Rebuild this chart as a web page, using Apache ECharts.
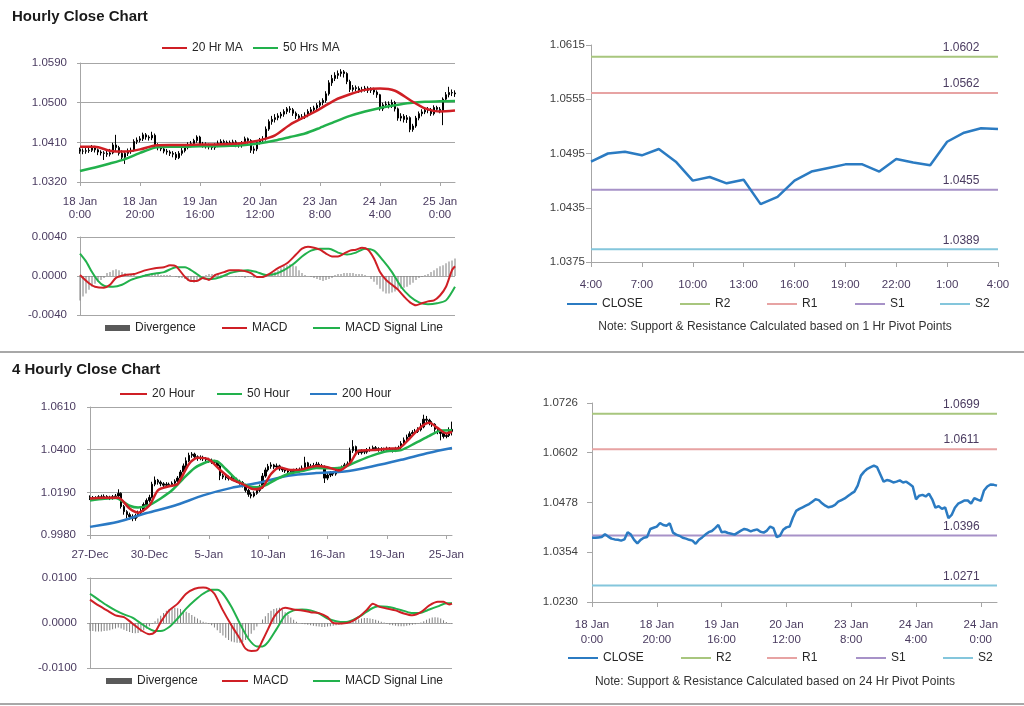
<!DOCTYPE html>
<html><head><meta charset="utf-8">
<script src="https://cdn.jsdelivr.net/npm/echarts@6/dist/echarts.min.js"></script>
<style>html,body{margin:0;padding:0;background:#fff}#c{width:1024px;height:706px}</style>
</head><body><div id="c"></div>
<script>
// ---------------- DATA ----------------
const hourlyTicks = ['18 Jan\n0:00','18 Jan\n20:00','19 Jan\n16:00','20 Jan\n12:00','23 Jan\n8:00','24 Jan\n4:00','25 Jan\n0:00'];
const pivotHourlyTicks = ['18 Jan\n0:00','18 Jan\n20:00','19 Jan\n16:00','20 Jan\n12:00','23 Jan\n8:00','24 Jan\n4:00','24 Jan\n0:00'];
const fourHourTicks = ['27-Dec','30-Dec','5-Jan','10-Jan','16-Jan','19-Jan','25-Jan'];
const dayHours = ['4:00','5:00','6:00','7:00','8:00','9:00','10:00','11:00','12:00','13:00','14:00','15:00','16:00','17:00','18:00','19:00','20:00','21:00','22:00','23:00','0:00','1:00','2:00','3:00','4:00'];

const hourlyOpen = [1.0394,1.0390,1.0390,1.0391,1.0392,1.0399,1.0393,1.0388,1.0386,1.0385,
1.0383,1.0386,1.0404,1.0398,1.0385,1.0376,1.0385,1.0390,1.0392,1.0412,
1.0415,1.0418,1.0427,1.0422,1.0420,1.0426,1.0403,1.0398,1.0395,1.0390,
1.0388,1.0385,1.0383,1.0375,1.0385,1.0391,1.0398,1.0404,1.0407,1.0414,
1.0422,1.0404,1.0405,1.0402,1.0400,1.0398,1.0403,1.0408,1.0412,1.0410,
1.0406,1.0409,1.0411,1.0405,1.0403,1.0408,1.0418,1.0414,1.0392,1.0395,
1.0410,1.0416,1.0418,1.0440,1.0457,1.0462,1.0466,1.0470,1.0474,1.0480,
1.0486,1.0484,1.0476,1.0470,1.0466,1.0468,1.0472,1.0480,1.0484,1.0488,
1.0494,1.0500,1.0505,1.0520,1.0545,1.0555,1.0562,1.0566,1.0570,1.0566,
1.0548,1.0530,1.0534,1.0532,1.0528,1.0530,1.0533,1.0528,1.0530,1.0524,
1.0518,1.0486,1.0495,1.0497,1.0493,1.0500,1.0486,1.0465,1.0469,1.0462,
1.0466,1.0439,1.0447,1.0465,1.0475,1.0479,1.0483,1.0483,1.0475,1.0489,
1.0485,1.0482,1.0508,1.0518,1.0523,1.0522];
const hourlyClose = [1.0390,1.0390,1.0391,1.0392,1.0399,1.0393,1.0388,1.0386,1.0385,1.0383,
1.0386,1.0404,1.0398,1.0385,1.0376,1.0385,1.0390,1.0392,1.0412,1.0415,
1.0418,1.0427,1.0422,1.0420,1.0426,1.0403,1.0398,1.0395,1.0390,1.0388,
1.0385,1.0383,1.0375,1.0385,1.0391,1.0398,1.0404,1.0407,1.0414,1.0422,
1.0404,1.0405,1.0402,1.0400,1.0398,1.0403,1.0408,1.0412,1.0410,1.0406,
1.0409,1.0411,1.0405,1.0403,1.0408,1.0418,1.0414,1.0392,1.0395,1.0410,
1.0416,1.0418,1.0440,1.0457,1.0462,1.0466,1.0470,1.0474,1.0480,1.0486,
1.0484,1.0476,1.0470,1.0466,1.0468,1.0472,1.0480,1.0484,1.0488,1.0494,
1.0500,1.0505,1.0520,1.0545,1.0555,1.0562,1.0566,1.0570,1.0566,1.0548,
1.0530,1.0534,1.0532,1.0528,1.0530,1.0533,1.0528,1.0530,1.0524,1.0518,
1.0486,1.0495,1.0497,1.0493,1.0500,1.0486,1.0465,1.0469,1.0462,1.0466,
1.0439,1.0447,1.0465,1.0475,1.0479,1.0483,1.0483,1.0475,1.0489,1.0485,
1.0482,1.0508,1.0518,1.0523,1.0522,1.0520];
const hourlyLow = [1.0384,1.0383,1.0384,1.0386,1.0388,1.0387,1.0381,1.0380,1.0370,1.0377,
1.0378,1.0383,1.0388,1.0380,1.0370,1.0361,1.0379,1.0384,1.0389,1.0406,
1.0410,1.0413,1.0416,1.0414,1.0415,1.0398,1.0392,1.0390,1.0385,1.0382,
1.0379,1.0376,1.0370,1.0372,1.0380,1.0387,1.0394,1.0399,1.0402,1.0409,
1.0400,1.0398,1.0396,1.0394,1.0393,1.0393,1.0399,1.0403,1.0404,1.0400,
1.0401,1.0404,1.0399,1.0398,1.0398,1.0404,1.0407,1.0386,1.0384,1.0390,
1.0405,1.0410,1.0414,1.0436,1.0450,1.0455,1.0460,1.0464,1.0468,1.0474,
1.0477,1.0470,1.0463,1.0460,1.0461,1.0463,1.0467,1.0475,1.0478,1.0483,
1.0489,1.0494,1.0500,1.0516,1.0538,1.0549,1.0554,1.0559,1.0557,1.0542,
1.0524,1.0525,1.0526,1.0522,1.0523,1.0525,1.0522,1.0522,1.0518,1.0511,
1.0482,1.0481,1.0489,1.0487,1.0488,1.0480,1.0459,1.0458,1.0455,1.0454,
1.0433,1.0434,1.0443,1.0460,1.0469,1.0474,1.0476,1.0470,1.0471,1.0479,
1.0476,1.0449,1.0503,1.0512,1.0515,1.0513];
const hourlyHigh = [1.0398,1.0396,1.0397,1.0399,1.0404,1.0402,1.0396,1.0392,1.0390,1.0391,
1.0395,1.0409,1.0427,1.0402,1.0392,1.0390,1.0396,1.0398,1.0417,1.0421,
1.0424,1.0432,1.0431,1.0426,1.0434,1.0430,1.0408,1.0402,1.0399,1.0395,
1.0392,1.0390,1.0388,1.0390,1.0397,1.0403,1.0410,1.0413,1.0418,1.0426,
1.0425,1.0411,1.0410,1.0407,1.0405,1.0408,1.0414,1.0417,1.0416,1.0414,
1.0414,1.0416,1.0415,1.0409,1.0413,1.0423,1.0421,1.0417,1.0401,1.0414,
1.0420,1.0424,1.0446,1.0462,1.0470,1.0474,1.0476,1.0479,1.0485,1.0490,
1.0492,1.0488,1.0480,1.0474,1.0474,1.0478,1.0485,1.0490,1.0493,1.0499,
1.0505,1.0510,1.0526,1.0551,1.0563,1.0569,1.0573,1.0576,1.0574,1.0569,
1.0552,1.0540,1.0539,1.0537,1.0536,1.0538,1.0537,1.0535,1.0534,1.0528,
1.0520,1.0500,1.0503,1.0503,1.0507,1.0504,1.0489,1.0476,1.0474,1.0472,
1.0469,1.0452,1.0470,1.0480,1.0485,1.0488,1.0490,1.0488,1.0494,1.0493,
1.0490,1.0512,1.0524,1.0536,1.0530,1.0528];
// moving averages read at sampled bar positions [barIndex, value]
const hourlyMA20 = [[0,1.0400],[5,1.0400],[10,1.0391],[15,1.0389],[20,1.0394],[25,1.0403],[30,1.0404],[35,1.0404],[40,1.0405],[45,1.0405],[50,1.0406],[55,1.0409],[60,1.0415],[65,1.0426],[70,1.0450],[75,1.0468],[80,1.0486],[85,1.0506],[90,1.0519],[95,1.0529],[100,1.0532],[105,1.0527],[110,1.0506],[115,1.0487],[120,1.0480],[125,1.0482]];
const hourlyMA50 = [[0,1.0345],[5,1.0353],[10,1.0362],[15,1.0372],[20,1.0386],[25,1.0398],[30,1.0400],[35,1.0400],[40,1.0401],[45,1.0401],[50,1.0402],[55,1.0404],[60,1.0408],[65,1.0414],[70,1.0422],[75,1.0430],[80,1.0443],[85,1.0457],[90,1.0470],[95,1.0480],[100,1.0488],[105,1.0494],[110,1.0499],[115,1.0502],[120,1.0503],[125,1.0504]];
const hourlyMacd = [[0,0.0001],[3,-0.00075],[5,-0.0011],[8,-0.0012],[10,-0.0009],[12,-0.0002],[15,0.0001],[18,0.0002],[22,0.0006],[25,0.0008],[28,0.0009],[30,0.0011],[32,0.0010],[35,-0.0001],[37,-0.0005],[39,-0.0005],[41,-0.0002],[43,-0.0004],[45,0.0001],[48,0.0004],[50,0.0006],[53,0.0006],[55,0.0005],[57,0.0003],[59,-0.0001],[61,-0.0001],[63,0.0002],[66,0.0008],[69,0.0013],[72,0.0022],[74,0.0028],[76,0.0030],[78,0.0029],[80,0.0027],[82,0.0023],[84,0.0020],[86,0.0020],[88,0.0023],[90,0.0026],[92,0.0027],[94,0.0029],[96,0.0027],[98,0.0018],[100,0.0004],[102,-0.0004],[104,-0.0009],[106,-0.0014],[108,-0.0021],[110,-0.0027],[112,-0.0030],[114,-0.0028],[116,-0.0026],[118,-0.0025],[120,-0.0020],[122,-0.0011],[124,0.0006],[125,0.0010]];
const hourlySignal = [[0,0.0023],[2,0.0015],[4,0.0004],[6,-0.0005],[8,-0.0010],[11,-0.0011],[14,-0.0009],[17,-0.0004],[20,-0.0001],[24,0.0002],[28,0.0004],[32,0.0009],[35,0.0009],[38,0.0004],[41,-0.0002],[44,-0.0003],[47,-0.0001],[50,0.0003],[53,0.0005],[56,0.0006],[59,0.0004],[62,0.0001],[65,0.0002],[68,0.0006],[71,0.0012],[74,0.0020],[77,0.0026],[80,0.0028],[83,0.0028],[86,0.0024],[89,0.0022],[92,0.0024],[95,0.0028],[98,0.0026],[101,0.0016],[104,0.0004],[107,-0.0011],[110,-0.0021],[113,-0.0027],[116,-0.0029],[119,-0.0028],[122,-0.0025],[125,-0.0011]];
const hourlyDivergence = [-0.0025,-0.0021,-0.0018,-0.0014,-0.0011,-0.0008,-0.0006,-0.0004,-0.0002,
0.0003,0.0004,0.0006,0.0007,0.0006,0.0004,0.0003,0.0002,0.0001,0.0001,0,0,
0.0001,0.0002,0.0002,0.0002,0.0002,0.0002,0.0001,0.0001,0.0001,0.0001,
0,-0.0001,-0.0002,-0.0002,-0.0003,-0.0005,-0.0006,-0.0007,-0.0005,-0.0003,
-0.0001,0.0001,0.0002,0.0002,0.0002,0.0002,0.0001,0.0001,
0.0001,0,0,-0.0001,-0.0001,-0.0001,-0.0002,-0.0001,-0.0001,
-0.0002,-0.0002,-0.0002,-0.0002,-0.0001,0.0001,0.0003,
0.0004,0.0006,0.0008,0.0010,0.0011,0.0012,0.0011,0.0010,0.0006,
0.0003,0.0001,0,-0.0001,
-0.0002,-0.0003,-0.0004,-0.0005,-0.0004,-0.0003,-0.0002,
0.0001,0.0002,0.0002,0.0003,0.0003,0.0003,0.0003,0.0002,0.0002,0.0002,0.0001,0,
-0.0003,-0.0006,-0.0009,-0.0013,-0.0016,
-0.0018,-0.0018,-0.0017,-0.0016,-0.0014,-0.0013,-0.0012,-0.0011,-0.0009,
-0.0007,-0.0004,-0.0002,-0.0001,0.0001,0.0002,
0.0004,0.0006,0.0008,0.0010,0.0011,0.0013,0.0015,0.0016,0.0018];

const lastDayClose = [1.0486,1.0495,1.0497,1.0493,1.0500,1.0486,1.0465,1.0469,1.0462,1.0466,1.0439,1.0447,1.0465,1.0475,1.0479,1.0483,1.0483,1.0475,1.0489,1.0485,1.0482,1.0508,1.0518,1.0523,1.0522];
const pivotNames = ['R2','R1','S1','S2'];
const hourlyPivotLevels = [1.0602,1.0562,1.0455,1.0389];
const dailyPivotLevels = [1.0699,1.0611,1.0396,1.0271];

const fourOpen = [1.0160,1.0165,1.0160,1.0163,1.0168,1.0165,1.0170,1.0166,1.0162,1.0168,
1.0172,1.0185,1.0120,1.0095,1.0080,1.0070,1.0062,1.0075,1.0090,1.0100,
1.0130,1.0150,1.0165,1.0230,1.0250,1.0240,1.0232,1.0225,1.0230,1.0228,
1.0235,1.0245,1.0260,1.0290,1.0320,1.0345,1.0372,1.0378,1.0365,1.0358,
1.0362,1.0355,1.0350,1.0345,1.0340,1.0338,1.0320,1.0272,1.0265,1.0262,
1.0258,1.0262,1.0255,1.0245,1.0238,1.0225,1.0200,1.0180,1.0172,1.0185,
1.0200,1.0215,1.0270,1.0300,1.0318,1.0325,1.0315,1.0320,1.0305,1.0300,
1.0295,1.0290,1.0292,1.0295,1.0298,1.0300,1.0310,1.0335,1.0315,1.0318,
1.0322,1.0328,1.0320,1.0318,1.0260,1.0275,1.0285,1.0280,1.0292,1.0305,
1.0312,1.0325,1.0330,1.0395,1.0415,1.0390,1.0385,1.0392,1.0388,1.0398,
1.0402,1.0410,1.0405,1.0400,1.0402,1.0398,1.0405,1.0400,1.0396,1.0405,
1.0410,1.0430,1.0448,1.0462,1.0478,1.0485,1.0490,1.0498,1.0512,1.0550,
1.0545,1.0530,1.0525,1.0500,1.0490,1.0480,1.0465,1.0470,1.0490];
const fourClose = [1.0165,1.0160,1.0163,1.0168,1.0165,1.0170,1.0166,1.0162,1.0168,1.0172,
1.0185,1.0120,1.0095,1.0080,1.0070,1.0062,1.0075,1.0090,1.0100,1.0130,
1.0150,1.0165,1.0230,1.0250,1.0240,1.0232,1.0225,1.0230,1.0228,1.0235,
1.0245,1.0260,1.0290,1.0320,1.0345,1.0372,1.0378,1.0365,1.0358,1.0362,
1.0355,1.0350,1.0345,1.0340,1.0338,1.0320,1.0272,1.0265,1.0262,1.0258,
1.0262,1.0255,1.0245,1.0238,1.0225,1.0200,1.0180,1.0172,1.0185,1.0200,
1.0215,1.0270,1.0300,1.0318,1.0325,1.0315,1.0320,1.0305,1.0300,1.0295,
1.0290,1.0292,1.0295,1.0298,1.0300,1.0310,1.0335,1.0315,1.0318,1.0322,
1.0328,1.0320,1.0318,1.0260,1.0275,1.0285,1.0280,1.0292,1.0305,1.0312,
1.0325,1.0330,1.0395,1.0415,1.0390,1.0385,1.0392,1.0388,1.0398,1.0402,
1.0410,1.0405,1.0400,1.0402,1.0398,1.0405,1.0400,1.0396,1.0405,1.0410,
1.0430,1.0448,1.0462,1.0478,1.0485,1.0490,1.0498,1.0512,1.0550,1.0545,
1.0530,1.0525,1.0500,1.0490,1.0480,1.0465,1.0470,1.0490,1.0500];
const fourLow = [1.0152,1.0150,1.0152,1.0155,1.0157,1.0158,1.0156,1.0152,1.0154,1.0160,
1.0165,1.0110,1.0080,1.0062,1.0055,1.0048,1.0050,1.0066,1.0080,1.0094,
1.0122,1.0140,1.0160,1.0220,1.0228,1.0220,1.0215,1.0216,1.0218,1.0220,
1.0228,1.0238,1.0252,1.0282,1.0310,1.0338,1.0360,1.0355,1.0345,1.0348,
1.0344,1.0340,1.0335,1.0330,1.0326,1.0312,1.0250,1.0255,1.0250,1.0248,
1.0249,1.0245,1.0236,1.0228,1.0214,1.0190,1.0168,1.0160,1.0165,1.0178,
1.0192,1.0208,1.0262,1.0292,1.0306,1.0305,1.0306,1.0296,1.0290,1.0286,
1.0280,1.0282,1.0284,1.0286,1.0288,1.0292,1.0305,1.0305,1.0306,1.0310,
1.0312,1.0308,1.0305,1.0236,1.0250,1.0265,1.0270,1.0272,1.0285,1.0296,
1.0305,1.0318,1.0325,1.0384,1.0380,1.0374,1.0376,1.0378,1.0380,1.0390,
1.0395,1.0394,1.0390,1.0391,1.0388,1.0390,1.0390,1.0386,1.0388,1.0396,
1.0402,1.0422,1.0440,1.0455,1.0470,1.0476,1.0482,1.0490,1.0505,1.0532,
1.0520,1.0512,1.0488,1.0476,1.0446,1.0455,1.0456,1.0462,1.0470];
const fourHigh = [1.0175,1.0172,1.0171,1.0176,1.0178,1.0180,1.0176,1.0173,1.0177,1.0182,
1.0205,1.0190,1.0128,1.0102,1.0090,1.0082,1.0085,1.0100,1.0112,1.0140,
1.0160,1.0178,1.0242,1.0268,1.0256,1.0248,1.0240,1.0240,1.0238,1.0244,
1.0254,1.0270,1.0300,1.0332,1.0362,1.0385,1.0388,1.0385,1.0372,1.0372,
1.0370,1.0364,1.0360,1.0356,1.0350,1.0345,1.0325,1.0282,1.0275,1.0272,
1.0272,1.0268,1.0262,1.0252,1.0245,1.0232,1.0208,1.0190,1.0195,1.0210,
1.0228,1.0285,1.0312,1.0330,1.0338,1.0330,1.0332,1.0326,1.0315,1.0310,
1.0305,1.0302,1.0306,1.0310,1.0312,1.0322,1.0365,1.0340,1.0330,1.0335,
1.0340,1.0338,1.0330,1.0322,1.0285,1.0295,1.0294,1.0302,1.0315,1.0322,
1.0335,1.0342,1.0410,1.0447,1.0420,1.0398,1.0402,1.0400,1.0408,1.0414,
1.0420,1.0418,1.0412,1.0412,1.0410,1.0415,1.0413,1.0408,1.0414,1.0420,
1.0442,1.0460,1.0474,1.0490,1.0496,1.0502,1.0510,1.0530,1.0572,1.0566,
1.0552,1.0540,1.0530,1.0508,1.0495,1.0488,1.0482,1.0510,1.0538];
const fourMA20 = [[0,1.0160],[5,1.0163],[10,1.0163],[14,1.0110],[17,1.0090],[21,1.0125],[24,1.0200],[28,1.0220],[31,1.0232],[35,1.0330],[38,1.0360],[42,1.0352],[46,1.0300],[50,1.0255],[54,1.0230],[58,1.0205],[61,1.0215],[64,1.0280],[67,1.0312],[71,1.0300],[75,1.0303],[80,1.0320],[84,1.0313],[88,1.0298],[92,1.0335],[95,1.0395],[100,1.0398],[105,1.0405],[109,1.0406],[113,1.0455],[117,1.0512],[120,1.0532],[123,1.0506],[126,1.0480],[128,1.0488]];
const fourMA50 = [[0,1.0150],[5,1.0158],[9,1.0162],[14,1.0124],[17,1.0115],[21,1.0128],[25,1.0160],[29,1.0200],[33,1.0258],[37,1.0310],[40,1.0332],[43,1.0345],[45,1.0342],[48,1.0305],[52,1.0250],[56,1.0220],[59,1.0215],[62,1.0225],[66,1.0255],[70,1.0280],[75,1.0295],[80,1.0310],[85,1.0308],[90,1.0315],[95,1.0345],[100,1.0372],[105,1.0392],[110,1.0398],[115,1.0432],[120,1.0468],[124,1.0494],[128,1.0496]];
const fourMA200 = [[0,1.0020],[10,1.0045],[20,1.0088],[30,1.0125],[40,1.0175],[50,1.0212],[60,1.0238],[70,1.0272],[80,1.0285],[90,1.0292],[100,1.0318],[110,1.0350],[120,1.0385],[128,1.0408]];
const fourMacd = [[0,0.0052],[3,0.0039],[6,0.0028],[9,0.0017],[12,0.0013],[15,-0.0001],[18,-0.0016],[21,-0.0025],[23,-0.0020],[25,0.0002],[28,0.0028],[31,0.0043],[34,0.0065],[37,0.0076],[40,0.0079],[42,0.0076],[44,0.0065],[47,0.0028],[50,-0.0005],[53,-0.0035],[55,-0.0057],[57,-0.0062],[59,-0.0061],[61,-0.0039],[63,-0.0013],[65,0.0013],[67,0.0028],[69,0.0034],[72,0.0030],[75,0.0028],[78,0.0024],[81,0.0022],[84,0.0013],[86,0],[89,-0.0001],[92,0.0002],[95,0.0013],[98,0.0030],[100,0.0043],[102,0.0037],[105,0.0032],[108,0.0028],[111,0.0021],[114,0.0017],[117,0.0024],[120,0.0039],[123,0.0047],[125,0.0047],[127,0.0041],[128,0.0043]];
const fourSignal = [[0,0.0065],[3,0.0052],[6,0.0039],[9,0.0028],[12,0.0019],[15,0.0012],[18,-0.0001],[21,-0.0013],[23,-0.0018],[25,-0.0018],[28,-0.0009],[31,0.0010],[34,0.0032],[37,0.0050],[40,0.0065],[43,0.0074],[45,0.0074],[47,0.0065],[50,0.0036],[53,-0.0001],[56,-0.0035],[59,-0.0052],[61,-0.0052],[63,-0.0042],[66,-0.0013],[69,0.0017],[72,0.0028],[75,0.0030],[78,0.0028],[81,0.0021],[84,0.0010],[87,0.0004],[90,0.0002],[93,0.0007],[96,0.0017],[99,0.0030],[102,0.0037],[105,0.0036],[108,0.0032],[111,0.0027],[114,0.0022],[117,0.0023],[120,0.0030],[123,0.0037],[126,0.0044],[128,0.0044]];
const fourDivergence = [-0.0018,-0.0018,-0.0019,-0.0019,-0.0019,-0.0018,-0.0017,-0.0016,-0.0014,-0.0012,-0.0010,
-0.0012,-0.0015,-0.0018,-0.0020,-0.0022,-0.0023,-0.0022,-0.0020,-0.0016,-0.0012,-0.0007,-0.0002,
0.0004,0.0010,0.0016,0.0022,0.0027,0.0031,0.0033,0.0034,0.0033,
0.0031,0.0028,0.0025,0.0022,0.0018,0.0014,0.0010,0.0006,0.0003,0.0001,-0.0002,
-0.0005,-0.0010,-0.0016,-0.0022,-0.0028,-0.0033,-0.0038,
-0.0041,-0.0043,-0.0044,-0.0044,-0.0042,-0.0038,-0.0032,
-0.0024,-0.0016,-0.0008,0,0.0008,
0.0015,0.0022,0.0027,0.0031,0.0033,0.0034,
0.0030,0.0024,0.0018,0.0012,0.0007,0.0003,0,
-0.0002,-0.0003,-0.0004,-0.0005,-0.0006,-0.0007,-0.0008,-0.0009,-0.0009,-0.0008,-0.0007,-0.0006,-0.0005,-0.0004,-0.0003,-0.0002,-0.0001,
0.0002,0.0004,0.0006,0.0008,0.0010,0.0011,0.0011,0.0010,0.0009,0.0007,0.0005,0.0003,0.0001,
-0.0002,-0.0004,-0.0005,-0.0006,-0.0007,-0.0007,-0.0007,-0.0006,-0.0005,-0.0004,-0.0003,-0.0001,0.0001,
0.0004,0.0007,0.0010,0.0012,0.0013,0.0012,0.0010,0.0006,
0.0002,-0.0001,-0.0002];

// ---------------- STYLE ----------------
const FONT = '"Liberation Sans", Arial, sans-serif';
const LBL = '#4a3b60';
const AX = '#a6a6a6';
const RED = '#cf1f25', GREEN = '#22b14c', BLUE = '#2a79c4', CLOSEC = '#2b7bc2';
const pivotColors = ['#a8c67e','#e7a3a3','#a792c8','#84c6dc'];

function cats(n, ticks, step) {
  return Array.from({length: n}, (_, i) => i % step === 0 ? (ticks[i / step] || '') : '');
}
function xCat(gi, n, ticks, step, o) {
  o = o || {};
  const show = o.show !== false;
  return {
    type: 'category', gridIndex: gi, data: cats(n, ticks, step), boundaryGap: false,
    axisLine: {show: show, onZero: false, lineStyle: {color: AX, width: 1}},
    axisTick: {show: show, interval: i => i % step === 0, length: o.tickLen || 4, lineStyle: {color: AX}},
    axisLabel: {show: show, interval: i => i % step === 0, margin: o.margin || 14, color: LBL,
      fontSize: 11.5, fontFamily: FONT, lineHeight: o.lh || 13},
    splitLine: {show: false}
  };
}
function yVal(gi, min, max, vals, o) {
  o = o || {};
  return {
    type: 'value', gridIndex: gi, min: min, max: max,
    axisLine: {show: true, lineStyle: {color: AX, width: 1}},
    axisTick: {show: true, customValues: vals, length: o.tickLen || 3, lineStyle: {color: AX}},
    axisLabel: {customValues: vals, margin: o.margin || 13, color: o.color || LBL, fontSize: 11.5, fontFamily: FONT,
      formatter: v => Number(v).toFixed(4)},
    splitLine: {show: o.split !== false, lineStyle: {color: AX, width: 1}}
  };
}
function lineS(name, xi, data, color, w, z) {
  return {name: name, type: 'line', xAxisIndex: xi, yAxisIndex: xi, data: data, symbol: 'none',
    smooth: 0.25, lineStyle: {color: color, width: w}, itemStyle: {color: color}, z: z || 3, silent: true};
}
function candle(name, xi, o, c, l, h) {
  return {name: name, type: 'candlestick', xAxisIndex: xi, yAxisIndex: xi, barWidth: 2,
    data: o.map((v, i) => [v, c[i], l[i], h[i]]),
    itemStyle: {color: '#000', color0: '#000', borderColor: '#000', borderColor0: '#000', borderWidth: 1}, z: 2, silent: true};
}
function pivotSeries(levels, n, xi, labelIdx, offX) {
  return pivotNames.map((nm, k) => ({
    name: nm, type: 'line', xAxisIndex: xi, yAxisIndex: xi,
    data: Array.from({length: n}, (_, i) => i === labelIdx ? {value: levels[k], label: {show: true}} : levels[k]),
    symbol: 'circle', symbolSize: 0, showSymbol: true, showAllSymbol: true,
    lineStyle: {color: pivotColors[k], width: 2}, itemStyle: {color: pivotColors[k]},
    label: {show: false, position: 'top', distance: 3, offset: [offX || 0, 0], color: LBL, fontSize: 12, fontFamily: FONT,
      formatter: p => Number(p.value).toFixed(4)},
    silent: true, z: 2
  }));
}
function leg(name, left, cy, o) {
  o = o || {};
  const h = o.h || 2;
  return {data: [{name: name, icon: 'rect', itemStyle: o.color ? {color: o.color} : undefined}],
    left: left, top: cy - 7, itemWidth: o.w || 28, itemHeight: h, padding: 0, selectedMode: false,
    textStyle: {fontSize: 12, fontFamily: FONT, color: '#262626'}};
}

const option = {
  animation: false,
  textStyle: {fontFamily: FONT},
  title: [
    {text: 'Hourly Close Chart', left: 12, top: 9, padding: 0, textStyle: {fontSize: 15, fontWeight: 'bold', color: '#1a1a1a', fontFamily: FONT}},
    {text: '4 Hourly Close Chart', left: 12, top: 362, padding: 0, textStyle: {fontSize: 15, fontWeight: 'bold', color: '#1a1a1a', fontFamily: FONT}},
    {text: 'Note: Support & Resistance Calculated based on 1 Hr Pivot Points', left: 775, top: 321, textAlign: 'center', padding: 0,
      textStyle: {fontSize: 12, fontWeight: 'normal', color: '#333', fontFamily: FONT}},
    {text: 'Note: Support & Resistance Calculated based on 24 Hr Pivot Points', left: 775, top: 676, textAlign: 'center', padding: 0,
      textStyle: {fontSize: 12, fontWeight: 'normal', color: '#333', fontFamily: FONT}}
  ],
  graphic: [
    {type: 'line', shape: {x1: 0, y1: 352, x2: 1024, y2: 352}, style: {stroke: '#a8a8a8', lineWidth: 2}},
    {type: 'line', shape: {x1: 0, y1: 704, x2: 1024, y2: 704}, style: {stroke: '#a8a8a8', lineWidth: 2}}
  ],
  legend: [
    leg('20 Hr MA', 162, 49, {w: 25}), leg('50 Hrs MA', 253, 49, {w: 25}),
    leg('Divergence', 105, 329, {w: 25, h: 6, color: '#595959'}), leg('MACD', 222, 329, {w: 25}), leg('MACD Signal Line', 313, 329, {w: 27}),
    leg('CLOSE', 567, 305, {w: 30}), leg('R2', 680, 305, {w: 30}), leg('R1', 767, 305, {w: 30}), leg('S1', 855, 305, {w: 30}), leg('S2', 940, 305, {w: 30}),
    leg('20 Hour', 120, 395, {w: 27}), leg('50 Hour', 217, 395, {w: 25}), leg('200 Hour', 310, 395, {w: 27}),
    leg('Divergence', 106, 682, {w: 26, h: 6, color: '#595959'}), leg('MACD', 222, 682, {w: 26}), leg('MACD Signal Line', 313, 682, {w: 27}),
    leg('CLOSE', 568, 659, {w: 30}), leg('R2', 681, 659, {w: 30}), leg('R1', 767, 659, {w: 30}), leg('S1', 856, 659, {w: 30}), leg('S2', 943, 659, {w: 30})
  ],
  grid: [
    {left: 80, top: 63, width: 375, height: 119},
    {left: 80, top: 237, width: 375, height: 78},
    {left: 591, top: 45, width: 407, height: 217},
    {left: 90, top: 407, width: 362, height: 128},
    {left: 90, top: 578, width: 362, height: 90},
    {left: 592, top: 403, width: 405, height: 199}
  ],
  xAxis: [
    xCat(0, hourlyClose.length, hourlyTicks, 20, {margin: 14, lh: 12.5}),
    xCat(1, hourlyDivergence.length, hourlyTicks, 20, {show: false}),
    xCat(2, dayHours.length, dayHours.filter((_, i) => i % 3 === 0), 3, {margin: 16, tickLen: 5}),
    xCat(3, fourClose.length, fourHourTicks, 21, {margin: 13}),
    xCat(4, fourDivergence.length, fourHourTicks, 21, {show: false}),
    xCat(5, hourlyClose.length, pivotHourlyTicks, 20, {margin: 15, lh: 15, tickLen: 5})
  ],
  yAxis: [
    yVal(0, 1.032, 1.059, [1.032, 1.041, 1.050, 1.059]),
    yVal(1, -0.004, 0.004, [-0.004, 0, 0.004]),
    yVal(2, 1.0375, 1.0615, [1.0375, 1.0435, 1.0495, 1.0555, 1.0615], {split: false, margin: 6, tickLen: 5, color: '#404040'}),
    yVal(3, 0.998, 1.061, [0.998, 1.019, 1.040, 1.061], {margin: 14}),
    yVal(4, -0.01, 0.01, [-0.01, 0, 0.01], {margin: 13}),
    yVal(5, 1.023, 1.0726, [1.023, 1.0354, 1.0478, 1.0602, 1.0726], {split: false, margin: 14, tickLen: 5, color: '#404040'})
  ],
  series: [
    candle('Hourly', 0, hourlyOpen, hourlyClose, hourlyLow, hourlyHigh),
    lineS('50 Hrs MA', 0, hourlyMA50, GREEN, 2.5),
    lineS('20 Hr MA', 0, hourlyMA20, RED, 2.5, 4),
    {name: 'Divergence', type: 'bar', xAxisIndex: 1, yAxisIndex: 1, data: hourlyDivergence, barWidth: 1,
      itemStyle: {color: '#7f7f7f'}, z: 1, silent: true},
    lineS('MACD Signal Line', 1, hourlySignal, GREEN, 2),
    lineS('MACD', 1, hourlyMacd, RED, 2),
    ...pivotSeries(hourlyPivotLevels, dayHours.length, 2, 22, -3),
    {name: 'CLOSE', type: 'line', xAxisIndex: 2, yAxisIndex: 2, data: lastDayClose, symbol: 'none',
      lineStyle: {color: CLOSEC, width: 2.5}, itemStyle: {color: CLOSEC}, z: 3, silent: true},
    candle('4 Hourly', 3, fourOpen, fourClose, fourLow, fourHigh),
    lineS('200 Hour', 3, fourMA200, BLUE, 2.5),
    lineS('50 Hour', 3, fourMA50, GREEN, 2.5),
    lineS('20 Hour', 3, fourMA20, RED, 2.5, 4),
    {name: 'Divergence', type: 'bar', xAxisIndex: 4, yAxisIndex: 4, data: fourDivergence, barWidth: 1,
      itemStyle: {color: '#7f7f7f'}, z: 1, silent: true},
    lineS('MACD Signal Line', 4, fourSignal, GREEN, 2),
    lineS('MACD', 4, fourMacd, RED, 2),
    ...pivotSeries(dailyPivotLevels, hourlyClose.length, 5, 114, 0),
    {name: 'CLOSE', type: 'line', xAxisIndex: 5, yAxisIndex: 5, data: hourlyClose, symbol: 'none',
      lineStyle: {color: CLOSEC, width: 2.5}, itemStyle: {color: CLOSEC}, z: 3, silent: true}
  ]
};
const chart = echarts.init(document.getElementById('c'), null, {renderer: 'canvas'});
chart.setOption(option);
</script></body></html>
